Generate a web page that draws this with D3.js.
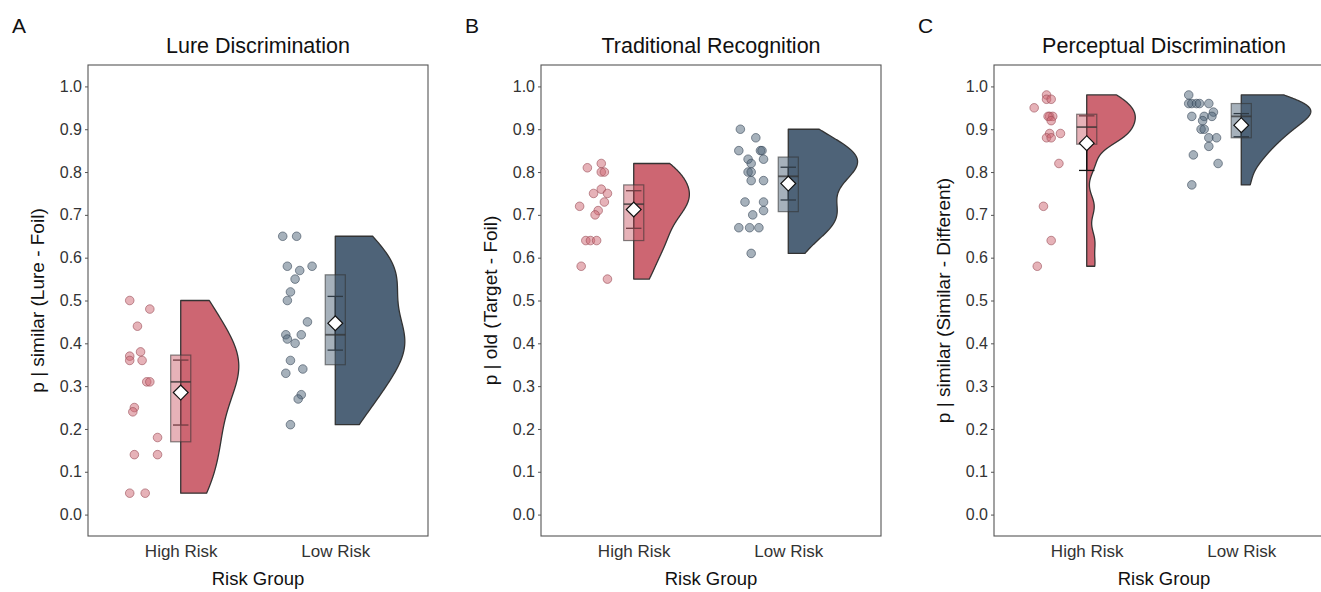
<!DOCTYPE html>
<html><head><meta charset="utf-8">
<script src="https://cdn.jsdelivr.net/npm/d3@7"></script>
<style>
body{margin:0;background:#fff}
svg{display:block}
text{font-family:"Liberation Sans",Arial,Helvetica,sans-serif}
</style>
</head><body>
<svg id="chart" width="1321" height="592"></svg>
<script>
// ---------------- DATA ----------------
const categories = ["High Risk", "Low Risk"];
const panelLetters = ["A", "B", "C"];
const panelTitles = ["Lure Discrimination", "Traditional Recognition", "Perceptual Discrimination"];
const yAxisTitles = ["p | similar (Lure - Foil)", "p | old (Target - Foil)", "p | similar (Similar - Different)"];
const xAxisTitle = "Risk Group";
const yTickValues = [0.0, 0.1, 0.2, 0.3, 0.4, 0.5, 0.6, 0.7, 0.8, 0.9, 1.0];
const groupColors = ["#cd6672", "#4e6378"];

// Panel A - Lure Discrimination
const lureHigh = [0.50, 0.48, 0.44, 0.38, 0.37, 0.36, 0.36, 0.31, 0.31, 0.25, 0.24, 0.18, 0.14, 0.14, 0.05, 0.05];
const lureHighJitter = [-0.33, -0.20, -0.28, -0.26, -0.33, -0.33, -0.25, -0.22, -0.20, -0.30, -0.31, -0.15, -0.30, -0.15, -0.33, -0.23];
const lureLow = [0.65, 0.65, 0.58, 0.58, 0.57, 0.55, 0.52, 0.50, 0.45, 0.42, 0.42, 0.41, 0.40, 0.36, 0.34, 0.33, 0.28, 0.27, 0.21];
const lureLowJitter = [-0.34, -0.25, -0.31, -0.15, -0.23, -0.26, -0.29, -0.31, -0.18, -0.32, -0.22, -0.31, -0.26, -0.29, -0.21, -0.32, -0.22, -0.24, -0.29];

// Panel B - Traditional Recognition
const tradHigh = [0.81, 0.82, 0.80, 0.80, 0.75, 0.76, 0.75, 0.73, 0.72, 0.71, 0.70, 0.64, 0.64, 0.64, 0.58, 0.55];
const tradHighJitter = [-0.30, -0.21, -0.21, -0.19, -0.26, -0.21, -0.17, -0.19, -0.35, -0.23, -0.25, -0.31, -0.28, -0.24, -0.34, -0.17];
const tradLow = [0.90, 0.88, 0.85, 0.85, 0.85, 0.83, 0.83, 0.82, 0.80, 0.80, 0.78, 0.78, 0.73, 0.73, 0.71, 0.70, 0.67, 0.67, 0.67, 0.61];
const tradLowJitter = [-0.31, -0.21, -0.32, -0.18, -0.17, -0.26, -0.16, -0.24, -0.26, -0.24, -0.24, -0.16, -0.28, -0.16, -0.16, -0.23, -0.32, -0.25, -0.19, -0.24];

// Panel C - Perceptual Discrimination
const percHigh = [0.98, 0.97, 0.97, 0.95, 0.93, 0.93, 0.93, 0.92, 0.89, 0.89, 0.88, 0.88, 0.82, 0.72, 0.64, 0.58];
const percHighJitter = [-0.26, -0.26, -0.23, -0.34, -0.24, -0.22, -0.25, -0.23, -0.24, -0.17, -0.26, -0.23, -0.18, -0.28, -0.23, -0.32];
const percLow = [0.98, 0.96, 0.96, 0.96, 0.96, 0.96, 0.94, 0.93, 0.93, 0.93, 0.92, 0.90, 0.90, 0.88, 0.88, 0.86, 0.84, 0.82, 0.77];
const percLowJitter = [-0.34, -0.34, -0.32, -0.29, -0.27, -0.21, -0.18, -0.32, -0.24, -0.19, -0.25, -0.26, -0.24, -0.21, -0.16, -0.21, -0.31, -0.15, -0.32];

const panelData = [
  [[lureHigh, lureHighJitter], [lureLow, lureLowJitter]],
  [[tradHigh, tradHighJitter], [tradLow, tradLowJitter]],
  [[percHigh, percHighJitter], [percLow, percLowJitter]]
];

// ---------------- LAYOUT ----------------
const svg = d3.select("#chart");
const panelLefts = [88, 541, 994];
const panelW = 340, plotTop = 65, plotBottom = 536;
const violinHalf = 0.45, boxWidth = 0.13, capWidth = 0.10;

// statistics helpers
function bwNrd0(v) {
  const s = v.slice().sort(d3.ascending);
  const sd = d3.deviation(s);
  const iqr = d3.quantileSorted(s, 0.75) - d3.quantileSorted(s, 0.25);
  let lo = Math.min(sd, iqr / 1.34);
  if (!(lo > 0)) lo = sd || 1;
  return 0.9 * lo * Math.pow(s.length, -0.2);
}
function kde(v, n = 512) {
  const bw = bwNrd0(v);
  const mn = d3.min(v), mx = d3.max(v);
  const c = 1 / (v.length * bw * Math.sqrt(2 * Math.PI));
  return d3.range(n).map(i => {
    const y = mn + (mx - mn) * i / (n - 1);
    return [y, c * d3.sum(v, x => Math.exp(-0.5 * ((y - x) / bw) ** 2))];
  });
}
function tQuant975(df) {
  const z = 1.959963985;
  return z + (z ** 3 + z) / (4 * df) + (5 * z ** 5 + 16 * z ** 3 + 3 * z) / (96 * df * df)
    + (3 * z ** 7 + 19 * z ** 5 + 17 * z ** 3 - 15 * z) / (384 * df ** 3);
}

panelData.forEach((groups, p) => {
  const left = panelLefts[p];
  const x = d3.scaleLinear().domain([0.4, 2.6]).range([left, left + panelW]);
  const y = d3.scaleLinear().domain([-0.05, 1.05]).range([plotBottom, plotTop]);
  const line = d3.line().x(e => x(e[0])).y(e => y(e[1]));
  const g = svg.append("g");

  // panel letter and title
  svg.append("text").attr("x", left - 76).attr("y", 33).attr("font-size", 21).attr("fill", "#111").text(panelLetters[p]);
  svg.append("text").attr("x", left + panelW / 2).attr("y", 53).attr("text-anchor", "middle")
    .attr("font-size", 21.5).attr("fill", "#111").text(panelTitles[p]);

  // densities (scale = "count" within a panel)
  const dens = groups.map(([vals]) => kde(vals));
  const maxD = d3.max(dens, d => d3.max(d, e => e[1]));
  const maxN = d3.max(groups, gr => gr[0].length);

  groups.forEach(([vals, jit], gi) => {
    const cat = gi + 1;
    const col = groupColors[gi];
    const nScale = vals.length / maxN;
    // half violin
    const d = dens[gi];
    const poly = [[cat, d[0][0]]].concat(d.map(([yy, dd]) => [cat + violinHalf * dd / maxD * nScale, yy]), [[cat, d[d.length - 1][0]]]);
    g.append("path").datum(poly)
      .attr("d", e => line(e) + "Z")
      .attr("fill", col).attr("stroke", "#333").attr("stroke-width", 1.3).attr("stroke-linejoin", "round");

    // points
    g.append("g").selectAll("circle").data(vals).join("circle")
      .attr("cx", (v, i) => x(cat + jit[i])).attr("cy", v => y(v)).attr("r", 4.3)
      .attr("fill", col).attr("fill-opacity", 0.5)
      .attr("stroke", d3.color(col).darker(0.8)).attr("stroke-opacity", 0.6).attr("stroke-width", 1);

    // CI error bar (mean ± t * SE)
    const m = d3.mean(vals), se = d3.deviation(vals) / Math.sqrt(vals.length);
    const h = tQuant975(vals.length - 1) * se;
    const eb = g.append("g").attr("stroke", "#111").attr("stroke-width", 1.3);
    eb.append("line").attr("x1", x(cat)).attr("x2", x(cat)).attr("y1", y(m - h)).attr("y2", y(m + h));
    [m - h, m + h].forEach(v => eb.append("line").attr("x1", x(cat - capWidth / 2)).attr("x2", x(cat + capWidth / 2)).attr("y1", y(v)).attr("y2", y(v)));

    // box (no whiskers)
    const s = vals.slice().sort(d3.ascending);
    const q1 = d3.quantileSorted(s, 0.25), med = d3.quantileSorted(s, 0.5), q3 = d3.quantileSorted(s, 0.75);
    g.append("rect").attr("x", x(cat - boxWidth / 2)).attr("width", x(cat + boxWidth / 2) - x(cat - boxWidth / 2))
      .attr("y", y(q3)).attr("height", y(q1) - y(q3))
      .attr("fill", col).attr("fill-opacity", 0.5)
      .attr("stroke", "#333").attr("stroke-opacity", 0.6).attr("stroke-width", 1.2);
    g.append("line").attr("x1", x(cat - boxWidth / 2)).attr("x2", x(cat + boxWidth / 2)).attr("y1", y(med)).attr("y2", y(med))
      .attr("stroke", "#333").attr("stroke-opacity", 0.75).attr("stroke-width", 1.8);

    // mean diamond
    g.append("path").attr("d", d3.symbol(d3.symbolSquare, 110)())
      .attr("transform", `translate(${x(cat)},${y(m)}) rotate(45)`)
      .attr("fill", "#fff").attr("stroke", "#111").attr("stroke-width", 1.2);
  });

  // frame
  svg.append("rect").attr("x", left).attr("y", plotTop).attr("width", panelW).attr("height", plotBottom - plotTop)
    .attr("fill", "none").attr("stroke", "#555").attr("stroke-width", 1.1);

  // y axis
  const ya = svg.append("g").attr("transform", `translate(${left},0)`)
    .call(d3.axisLeft(y).tickValues(yTickValues).tickFormat(d3.format(".1f")).tickSize(3).tickPadding(3));
  ya.select(".domain").remove();
  ya.selectAll(".tick line").attr("stroke", "#555");
  ya.selectAll("text").attr("font-size", 16).attr("fill", "#333").attr("font-family", null);

  // x axis
  const xa = svg.append("g").attr("transform", `translate(0,${plotBottom})`)
    .call(d3.axisBottom(x).tickValues([1, 2]).tickFormat(i => categories[i - 1]).tickSize(0).tickPadding(9));
  xa.select(".domain").remove();
  xa.selectAll("text").attr("font-size", 17).attr("fill", "#333").attr("font-family", null);

  // axis titles
  svg.append("text").attr("x", left + panelW / 2).attr("y", 585).attr("text-anchor", "middle")
    .attr("font-size", 18.5).attr("fill", "#111").text(xAxisTitle);
  svg.append("text").attr("transform", `translate(${left - 44},${(plotTop + plotBottom) / 2}) rotate(-90)`)
    .attr("text-anchor", "middle").attr("font-size", 19).attr("fill", "#111").text(yAxisTitles[p]);
});
</script>
</body></html>
